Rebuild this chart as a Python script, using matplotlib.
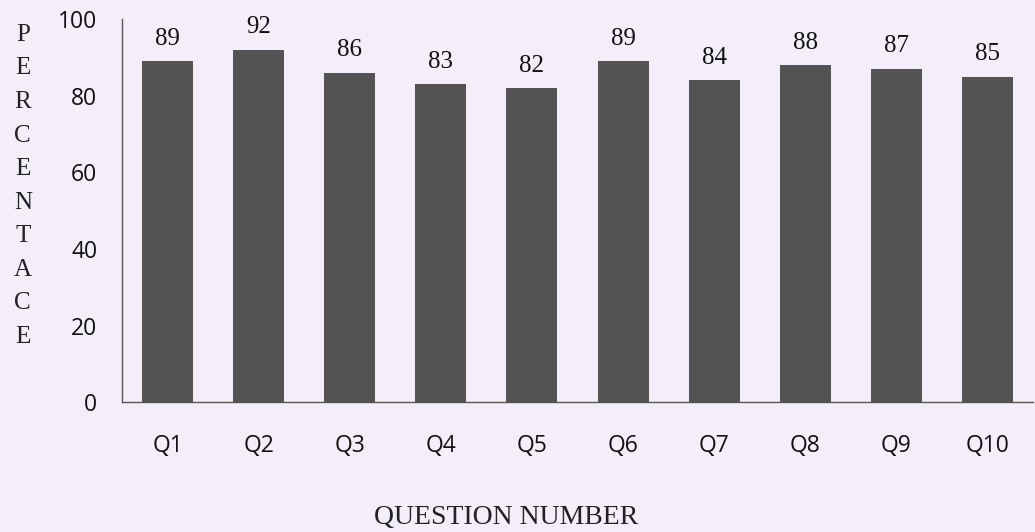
import matplotlib.pyplot as plt
import numpy as np

# question labels and percentage of correct answers
questions = ["Q1", "Q2", "Q3", "Q4", "Q5", "Q6", "Q7", "Q8", "Q9", "Q10"]
percent = [89, 92, 86, 83, 82, 89, 84, 88, 87, 85]
y_ticks = [0, 20, 40, 60, 80, 100]

BG = "#f3eef9"
BAR = "#535353"

fig = plt.figure(figsize=(10.35, 5.32), dpi=100, facecolor=BG)
ax = fig.add_axes([0.118, 0.244, 0.880, 0.720], facecolor=BG)

x = np.arange(len(questions))
bars = ax.bar(x, percent, width=0.56, color=BAR, zorder=2)

# value labels above each bar
for xi, val in zip(x, percent):
    ax.text(xi, val + 3, str(val), ha="center", va="bottom",
            family="Liberation Serif", fontsize=18, color="#111111")

ax.set_xlim(-0.5, len(questions) - 0.5)
ax.set_ylim(0, 100)
ax.set_yticks(y_ticks)
ax.set_xticks(x)
ax.set_xticklabels(questions, family="Open Sans", fontsize=16.5)
ax.set_yticklabels([str(t) for t in y_ticks], family="Open Sans", fontsize=16.5)
ax.tick_params(axis="both", length=0, colors="#111111")
ax.tick_params(axis="x", pad=23)
ax.tick_params(axis="y", pad=18)

for side in ("top", "right"):
    ax.spines[side].set_visible(False)
for side in ("left", "bottom"):
    ax.spines[side].set_color("#555555")
    ax.spines[side].set_linewidth(1.0)

# stacked vertical y label
fig.text(0.022, 0.955, "\n".join("PERCENTACE"), ha="center", va="top",
         family="Liberation Serif", fontsize=18, linespacing=1.68, color="#222222")

fig.text(0.489, 0.027, "QUESTION NUMBER", ha="center", va="center",
         family="Liberation Serif", fontsize=20, color="#222222")

fig.savefig("out.png", dpi=100, facecolor=BG)
